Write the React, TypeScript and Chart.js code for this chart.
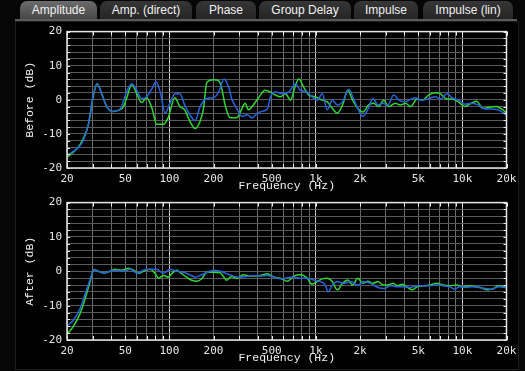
import React, { useEffect, useRef } from "react";
import { Chart, registerables } from "chart.js";
Chart.register(...registerables);

// ---------- tabs ----------
const tabLabels = ["Amplitude", "Amp. (direct)", "Phase", "Group Delay", "Impulse", "Impulse (lin)"];
const activeTab = 0;

// ---------- axes ----------
const xTickValues = [20, 50, 100, 200, 500, 1000, 2000, 5000, 10000, 20000];
const xTickLabels = ["20", "50", "100", "200", "500", "1k", "2k", "5k", "10k", "20k"];
const yLabelValues = [-20, -10, 0, 10, 20];
const xTitle = "Frequency (Hz)";
const topYTitle = "Before (dB)";
const bottomYTitle = "After (dB)";

// ---------- Before: blue ----------
const beforeBlueFreq = [20, 23.3, 25.8, 28, 30.2, 32.1, 34.5, 37.3, 41, 46.1, 51, 55.4, 59.8, 64.6, 70, 76, 81, 86.6, 93.5, 101, 109, 118, 127, 138, 150, 162, 180, 200, 217, 236, 254, 266, 288, 313, 339, 367, 398, 431, 468, 490, 530, 589, 656, 725, 783, 869, 941, 1020, 1105, 1195, 1295, 1400, 1520, 1680, 1800, 1930, 2090, 2260, 2450, 2650, 2870, 3100, 3400, 3690, 4100, 4430, 4800, 5200, 5760, 6550, 7090, 7860, 8500, 9420, 10440, 11570, 12830, 14200, 15750, 17450, 20000];
const beforeBlueDb = [-16.3, -14.4, -12, -7.2, 1.3, 4.7, 1.8, -2, -3.4, -2.7, 2.3, 4.7, 2.8, 0.4, 0.9, 3.2, 5.3, 2.3, -3.9, -1, 1.8, 1.8, -1.5, -4.4, -6.1, -2, 0.4, 0.6, 2.3, 6.1, 3.7, 0.4, -2.5, -4.9, -4.4, -5.3, -3.9, -3.4, -2.5, 0.9, 2.3, 1.8, 2.3, 4.7, 2.8, 2.3, 0.9, -0.1, 1.8, -2.9, -0.1, -1.5, -0.6, 3.0, 0.5, -2.5, -4.9, -2.9, 0.4, -1.5, -1, -1.5, 1.4, -0.1, -0.6, 0.2, 0.6, -0.1, 0.2, 0.9, 0.2, 1.8, 0.6, -0.1, -1.3, -1, -1.5, -2.7, -2.7, -2.9, -4.4];

// ---------- Before: green ----------
const beforeGreenFreq = [20, 23.3, 25.8, 28, 30.2, 32.1, 34.5, 37.3, 41, 46.1, 48.6, 51, 55.4, 59.8, 64.6, 70, 76, 82, 91, 98, 109, 118, 127, 138, 150, 162, 171, 180, 200, 217, 228, 240, 260, 288, 313, 329, 346, 374, 406, 450, 490, 530, 573, 620, 671, 725, 764, 826, 894, 990, 1105, 1195, 1295, 1400, 1520, 1650, 1780, 1930, 2090, 2290, 2480, 2680, 2900, 3140, 3480, 3770, 4090, 4430, 4900, 5310, 5880, 6520, 7060, 7830, 8470, 9380, 10390, 11520, 12480, 13820, 15310, 16970, 18810, 20000];
const beforeGreenDb = [-16.8, -14.4, -11.5, -7.2, 1, 4.7, 1.8, -2, -3.4, -2.9, -2, 0.4, 4.4, 1.8, -0.8, 0.6, -2.5, -7.2, -7.2, -5.3, 0.6, -2, -2.9, -6.3, -8.4, -6.3, -2.5, 5.1, 5.9, 5.6, 3.2, -1.5, -5.3, -5.3, -2.5, -1, -2.9, -1.5, 0.6, 2.8, 2.3, 1.4, 0.9, 1.8, -0.1, 4.2, 6.1, 3.7, 1.4, 0.9, -0.1, -0.6, -2.5, -3.9, -1.5, 2.8, -0.1, -2.5, -3.6, -1.5, -1, -2, -0.1, -2, -1, -1.5, -1, -2, 0.2, -0.1, 1.4, 2.1, 1.8, 0.2, 0.2, -0.6, -2, -1, -0.4, -2.5, -2.2, -2, -2.9, -3.9];

// ---------- After: blue ----------
const afterBlueFreq = [20, 22, 24.5, 26.5, 28.7, 30.6, 32.7, 35.4, 39.3, 43.7, 48.5, 54, 60, 66.5, 74, 82, 91, 101, 112, 125, 138, 150, 162, 180, 200, 222, 246, 274, 304, 337, 374, 416, 466, 520, 573, 640, 707, 780, 870, 960, 1070, 1160, 1210, 1295, 1400, 1550, 1720, 1930, 2130, 2360, 2650, 2920, 3240, 3600, 3990, 4430, 4900, 5430, 6020, 6670, 7380, 8180, 8850, 9580, 10600, 11750, 13000, 14420, 15970, 17700, 20000];
const afterBlueDb = [-15.9, -14.3, -11, -6.8, -2.5, 0.5, 0, -0.5, 0, 0.3, 0, 0.6, -0.5, 0.3, 0.6, 0.6, -0.6, 0.6, 0, -0.3, -1, -1.7, -1.2, -0.4, 0.3, 0, -0.7, -1.4, -1.7, -1.5, -1.2, -1.4, -1.2, -1.7, -2.2, -1.9, -1.7, -2, -2, -2.5, -3, -4, -6, -4, -3, -3.5, -3, -4, -3, -3.5, -4.7, -5, -4.2, -4.5, -4.5, -4.7, -4.2, -4.2, -4.2, -4, -4.2, -4.5, -5.2, -4.5, -4.7, -4.5, -4.7, -5, -5.2, -4.5, -4.7];

// ---------- After: green ----------
const afterGreenFreq = [20, 22, 24.5, 26.5, 28.7, 30.6, 32.7, 35.4, 39.3, 42.6, 47.4, 52.6, 57, 61.9, 66.5, 74, 80, 84, 91, 98, 106, 112, 121, 131, 142, 154, 167, 180, 200, 222, 246, 266, 288, 320, 356, 416, 466, 520, 573, 640, 707, 780, 870, 941, 1020, 1105, 1195, 1295, 1400, 1520, 1650, 1780, 1930, 2090, 2260, 2450, 2650, 2870, 3100, 3360, 3600, 3900, 4220, 4570, 4900, 5430, 6020, 6670, 7380, 8180, 9060, 10040, 11130, 12330, 13320, 14760, 15970, 17700, 20000];
const afterGreenDb = [-18.3, -16.2, -12.4, -8.2, -3.1, 0.5, 0, -0.5, 0, 0.6, 0.3, 0.9, 0.3, -0.6, 0, 0.6, -0.7, -2, -1.2, -1.7, -0.3, 0.3, -0.7, -1.7, -2.6, -2.9, -2.1, -0.3, -0.3, -0.4, -2.6, -1.5, -2.1, -1, -1.4, -1.2, -0.7, -1.7, -2, -2.9, -1.4, -1, -1.9, -3.8, -3, -2.2, -2, -3, -5.4, -3.5, -2.5, -4, -2, -3.5, -2.9, -3.5, -3, -4, -4, -3.5, -4.2, -3.8, -4.7, -5.4, -4.5, -4.2, -4, -3.5, -4, -4.2, -4, -4.5, -4.2, -4.5, -4.7, -5.4, -5.2, -4.2, -4.7];

const BLUE = "#2764dc";
const GREEN = "#2fd62f";

// vertical grid values (1..9 x decade) within 20..20000
const xGridValues: number[] = [];
for (const dec of [10, 100, 1000, 10000]) {
  for (let m = 1; m <= 9; m++) {
    const v = m * dec;
    if (v >= 20 && v <= 20000) xGridValues.push(v);
  }
}

const framePlugin = {
  id: "frame",
  afterDatasetsDraw(chart: any, _args: any, opts: any) {
    const { ctx, chartArea: a, scales } = chart;
    ctx.save();
    ctx.strokeStyle = "#e8e8e8";
    ctx.lineWidth = 1;
    ctx.beginPath();
    scales.x.ticks.forEach((t: any) => {
      const px = Math.round(scales.x.getPixelForValue(t.value)) + 0.5;
      ctx.moveTo(px, a.top);
      ctx.lineTo(px, a.top + 4);
      ctx.moveTo(px, a.bottom);
      ctx.lineTo(px, a.bottom - 4);
    });
    scales.y.ticks.forEach((t: any) => {
      const py = Math.round(scales.y.getPixelForValue(t.value)) + 0.5;
      ctx.moveTo(a.left, py);
      ctx.lineTo(a.left + 3, py);
      ctx.moveTo(a.right, py);
      ctx.lineTo(a.right - 3, py);
    });
    ctx.stroke();
    ctx.lineWidth = 1.5;
    ctx.strokeRect(a.left, a.top, a.right - a.left, a.bottom - a.top);
    ctx.fillStyle = "#f2f2f2";
    ctx.font = '11.5px "Liberation Mono", monospace';
    ctx.textAlign = "center";
    ctx.textBaseline = "middle";
    ctx.fillText(opts.xTitle, (a.left + a.right) / 2, a.bottom + 17.5);
    ctx.translate(30, (a.top + a.bottom) / 2);
    ctx.rotate(-Math.PI / 2);
    ctx.fillText(opts.yTitle, 0, 0);
    ctx.restore();
  },
};

type Series = { freq: number[]; db: number[]; color: string };

function Plot(props: { top: number; height: number; padTop: number; axisH: number; yTitle: string; series: Series[] }) {
  const ref = useRef<HTMLCanvasElement>(null);
  useEffect(() => {
    const chart = new Chart(ref.current as HTMLCanvasElement, {
      type: "line",
      data: {
        datasets: props.series.map((s) => ({
          data: s.freq.map((f, i) => ({ x: f, y: s.db[i] })),
          borderColor: s.color,
          borderWidth: 1.5,
          pointRadius: 0,
          fill: false,
          cubicInterpolationMode: "monotone" as const,
        })),
      },
      options: {
        animation: false,
        responsive: false,
        events: [],
        layout: { padding: { top: props.padTop, right: 18.5, left: 0, bottom: 0 } },
        plugins: {
          legend: { display: false },
          tooltip: { enabled: false },
          frame: { xTitle, yTitle: props.yTitle },
        } as any,
        scales: {
          x: {
            type: "logarithmic",
            min: 20,
            max: 20000,
            afterFit: (s: any) => {
              s.height = props.axisH;
            },
            afterBuildTicks: (s: any) => {
              s.ticks = xGridValues.map((v) => ({ value: v }));
            },
            grid: {
              color: (c: any) => ([100, 1000, 10000].includes(c.tick?.value) ? "#c4c4c4" : "#6c6c6c"),
              drawTicks: false,
              lineWidth: 1,
            },
            border: { display: false },
            ticks: {
              autoSkip: false,
              maxRotation: 0,
              minRotation: 0,
              padding: 5,
              color: "#e6e6e6",
              font: { family: '"DejaVu Sans Mono", monospace', size: 11 },
              callback: (v: any) => {
                const i = xTickValues.indexOf(Number(v));
                return i >= 0 ? xTickLabels[i] : "";
              },
            },
          },
          y: {
            min: -20,
            max: 20,
            afterFit: (s: any) => {
              s.width = 67;
            },
            grid: { color: "#5a5a5a", drawTicks: false, lineWidth: 1 },
            border: { display: false },
            ticks: {
              stepSize: 2,
              autoSkip: false,
              padding: 5,
              color: "#e6e6e6",
              font: { family: '"DejaVu Sans Mono", monospace', size: 11 },
              callback: (v: any) => (yLabelValues.includes(Number(v)) ? String(v) : ""),
            },
          },
        },
      },
      plugins: [framePlugin],
    });
    return () => chart.destroy();
  }, []);
  return (
    <canvas
      ref={ref}
      width={525}
      height={props.height}
      style={{ position: "absolute", left: 0, top: props.top, width: 525, height: props.height }}
    />
  );
}

const tabLeft = [20, 100, 196, 259, 354, 423];
const tabWidth = [77, 92, 60, 92, 64, 90];

export default function App() {
  return (
    <div
      style={{
        position: "fixed",
        left: 0,
        top: 0,
        width: 525,
        height: 371,
        background: "#060606",
        overflow: "hidden",
        fontFamily: '"Liberation Sans", Arial, sans-serif',
      }}
    >
      <div style={{ position: "absolute", left: 15, top: 21, width: 502, height: 347, background: "#000", border: "1px solid #1e1e1e" }} />
      {tabLabels.map((t, i) => (
        <div
          key={t}
          style={{
            position: "absolute",
            left: tabLeft[i],
            top: 1,
            width: tabWidth[i],
            height: 18,
            borderRadius: "7px 7px 0 0",
            background: i === activeTab ? "linear-gradient(#6c6c6c, #474747)" : "linear-gradient(#363636, #252525)",
            color: "#f0f0f0",
            fontSize: 12,
            lineHeight: "18px",
            textAlign: "center",
            whiteSpace: "nowrap",
          }}
        >
          {t}
        </div>
      ))}
      <div style={{ position: "absolute", left: 15, top: 19, width: 502, height: 2, background: "#5a5a5a" }} />
      <Plot
        top={20}
        height={173}
        padTop={8}
        axisH={25}
        yTitle={topYTitle}
        series={[
          { freq: beforeBlueFreq, db: beforeBlueDb, color: BLUE },
          { freq: beforeGreenFreq, db: beforeGreenDb, color: GREEN },
        ]}
      />
      <Plot
        top={191}
        height={180}
        padTop={8}
        axisH={31}
        yTitle={bottomYTitle}
        series={[
          { freq: afterBlueFreq, db: afterBlueDb, color: BLUE },
          { freq: afterGreenFreq, db: afterGreenDb, color: GREEN },
        ]}
      />
    </div>
  );
}
